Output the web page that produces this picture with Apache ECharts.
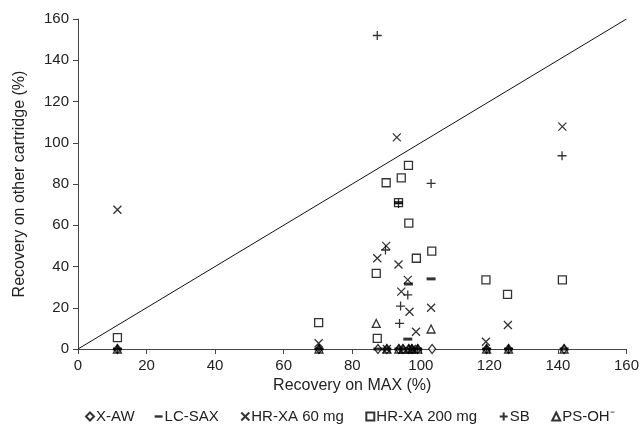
<!DOCTYPE html>
<html>
<head>
<meta charset="utf-8">
<script src="https://cdn.jsdelivr.net/npm/echarts@6/dist/echarts.min.js"></script>
<style>
  html, body { margin: 0; padding: 0; background: #fff; }
  #main { width: 642px; height: 431px; }
</style>
</head>
<body>
<div id="main"></div>
<script>
// 基于图片读取的数据 (x = recovery on MAX, y = recovery on other cartridge)
var xawX = [11.5, 70.3, 87.5, 90.1, 93.6, 94.8, 96.5, 97.4, 99.1, 103.3, 119.2, 125.6, 141.8];
var xawY = [0, 0, 0, 0, 0, 0, 0, 0, 0, 0, 0, 0, 0];

var lcsaxX = [11.5, 70.3, 87.5, 90.1, 93.6, 94.8, 97.4, 99.1, 119.2, 125.6, 141.8, 93.5, 96.4, 103, 96.2];
var lcsaxY = [0, 0, 0, 0, 0, 0, 0, 0, 0, 0, 0, 71, 31.5, 34, 4.8];

var hr60X = [11.5, 70.2, 87.3, 89.9, 93, 93.5, 94.3, 96.2, 96.7, 98.6, 103, 119, 125.4, 141.3, 90.1, 97.4];
var hr60Y = [67.5, 2.8, 44, 50, 102.6, 41, 27.8, 33.5, 18.1, 8.4, 20, 3.5, 11.6, 107.8, 0, 0];

var hr200X = [11.5, 70.2, 87, 87.3, 89.9, 93.5, 94.3, 96.4, 96.5, 98.7, 103.2, 119, 125.3, 141.3];
var hr200Y = [5.5, 12.8, 36.7, 5.2, 80.6, 71, 83, 89, 61, 44, 47.5, 33.5, 26.5, 33.5];

var sbX = [87.3, 89.7, 93.5, 94.1, 96.2, 93.8, 103, 141.2, 11.5, 70.3, 119.2, 125.6, 97.4, 99.1];
var sbY = [152, 48, 70.5, 20.8, 26.2, 12.4, 80.3, 93.7, 0, 0, 0, 0, 0, 0];

var psohX = [87, 103, 11.5, 70.3, 90.1, 93.6, 94.8, 96.5, 97.4, 99.1, 119.2, 125.6, 141.8];
var psohY = [12.4, 9.7, 0, 0, 0, 0, 0, 0, 0, 0, 0, 0, 0];

// 1:1 参考线
var lineX = [0, 160];
var lineY = [0, 160];

function pairs(xs, ys) {
  var out = [];
  for (var i = 0; i < xs.length; i++) out.push([xs[i], ys[i]]);
  return out;
}

var myChart = echarts.init(document.getElementById("main"));

var crossPath = "path://M0,0L10,10M10,0L0,10";
var plusPath = "path://M5,0L5,10M0,5L10,5";
var dashPath = "path://M0,0L10,0L10,3L0,3Z";
var openStyle = { color: "#fff", borderColor: "#000", borderWidth: 1.3 };
var strokeStyle = { color: "none", borderColor: "#000", borderWidth: 1.3 };

var option = {
  animation: false,
  textStyle: { fontFamily: "Liberation Sans, Arial, sans-serif" },
  grid: { left: 78, right: 12, top: 19, bottom: 82 },
  legend: {
    bottom: 2,
    left: 80,
    itemWidth: 8,
    itemHeight: 8,
    itemGap: 20,
    textStyle: { fontSize: 15, color: "#222", padding: [0, 0, 0, -3] },
    data: [
      { name: "X-AW" },
      { name: "LC-SAX", icon: dashPath },
      { name: "HR-XA 60 mg" },
      { name: "HR-XA 200 mg" },
      { name: "SB" },
      { name: "PS-OH\u207B" },
    ],
  },
  xAxis: {
    type: "value",
    min: 0,
    max: 160,
    interval: 20,
    name: "Recovery on MAX (%)",
    nameLocation: "middle",
    nameGap: 28,
    nameTextStyle: { fontSize: 16, color: "#222" },
    axisLine: { lineStyle: { color: "#444" } },
    axisTick: { lineStyle: { color: "#444" }, length: 5 },
    axisLabel: { fontSize: 15, color: "#222", margin: 9 },
    splitLine: { show: false },
  },
  yAxis: {
    type: "value",
    min: 0,
    max: 160,
    interval: 20,
    name: "Recovery on other cartridge (%)",
    nameLocation: "middle",
    nameGap: 50,
    nameTextStyle: { fontSize: 16, color: "#222" },
    axisLine: { show: true, lineStyle: { color: "#444" } },
    axisTick: { show: true, lineStyle: { color: "#444" }, length: 5 },
    axisLabel: { fontSize: 15, color: "#222", margin: 9 },
    splitLine: { show: false },
  },
  series: [
    {
      name: "1:1",
      type: "line",
      data: pairs(lineX, lineY),
      symbol: "none",
      lineStyle: { color: "#111", width: 1 },
      silent: true,
      z: 1,
    },
    {
      name: "X-AW",
      type: "scatter",
      symbol: "diamond",
      symbolSize: [7, 9],
      itemStyle: openStyle,
      data: pairs(xawX, xawY),
    },
    {
      name: "LC-SAX",
      type: "scatter",
      symbol: "rect",
      symbolSize: [9, 3],
      itemStyle: { color: "#000" },
      data: pairs(lcsaxX, lcsaxY),
    },
    {
      name: "HR-XA 60 mg",
      type: "scatter",
      symbol: crossPath,
      symbolSize: 8,
      itemStyle: strokeStyle,
      data: pairs(hr60X, hr60Y),
    },
    {
      name: "HR-XA 200 mg",
      type: "scatter",
      symbol: "rect",
      symbolSize: 8,
      itemStyle: { color: "none", borderColor: "#000", borderWidth: 1.3 },
      data: pairs(hr200X, hr200Y),
    },
    {
      name: "SB",
      type: "scatter",
      symbol: plusPath,
      symbolSize: 9,
      itemStyle: strokeStyle,
      data: pairs(sbX, sbY),
    },
    {
      name: "PS-OH\u207B",
      type: "scatter",
      symbol: "triangle",
      symbolSize: [8, 8],
      itemStyle: { color: "none", borderColor: "#000", borderWidth: 1.3 },
      data: pairs(psohX, psohY),
    },
  ],
};

myChart.setOption(option);
window.addEventListener("resize", myChart.resize);
</script>
</body>
</html>
